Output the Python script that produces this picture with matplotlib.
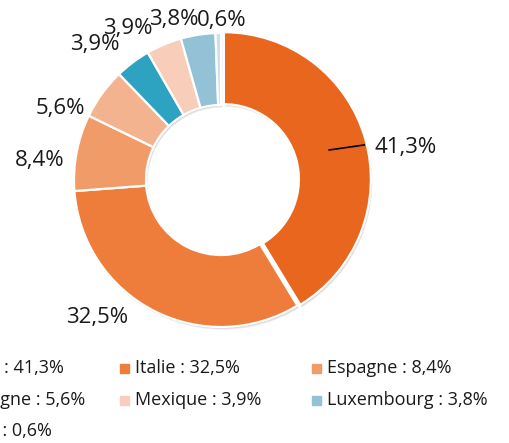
import matplotlib
matplotlib.use("Agg")
import matplotlib.pyplot as plt
import numpy as np
from matplotlib.patches import Rectangle

plt.rcParams['font.family'] = ['Open Sans', 'DejaVu Sans']

# ---- data ----
countries = ["France", "Italie", "Espagne", "Allemagne", "Suisse",
             "Mexique", "Luxembourg", "Autres"]
shares = [41.3, 32.5, 8.4, 5.6, 3.9, 3.9, 3.8, 0.6]
colors = ["#E9661F", "#EE7D3B", "#F19B68", "#F4B38F", "#2EA3C1",
          "#F8CDB9", "#93C2D6", "#C9DFEA"]
in_legend = [True, True, True, True, False, True, True, True]

def fmt(v):
    return f"{v:.1f}".replace(".", ",") + "%"

W, H = 510, 443
fig = plt.figure(figsize=(W / 100, H / 100), dpi=100)
ax = fig.add_axes([0, 0, 1, 1])
ax.set_xlim(0, W)
ax.set_ylim(0, H)
ax.axis("off")

cx, cy = 221, H - 180
R = 147
ring = 72
explode = [3, 0, 0, 0, 0, 0, 0, 0]

# soft shadow layers
for dx, dy, a in [(1.5, -2.5, 0.18), (1, -1.5, 0.22), (0.5, -0.8, 0.25)]:
    ax.pie(shares, radius=R, center=(cx + dx, cy + dy), startangle=90, counterclock=False,
           explode=explode, colors=["#808080"] * len(shares),
           wedgeprops=dict(width=ring, linewidth=0, alpha=a))

wedges, _ = ax.pie(shares, radius=R, center=(cx, cy), startangle=90, counterclock=False,
                   explode=explode, colors=colors,
                   wedgeprops=dict(width=ring, edgecolor="white", linewidth=1.6))
ax.set_xlim(0, W)
ax.set_ylim(0, H)
ax.set_aspect("equal")

# data labels (angle in degrees, distance from centre in px)
lab_ang = [10, -131.9, 173.7, 155.9, 133, 121.5, 106.4, 89.6]
lab_dist = [187, 185, 182, 176, 185, 178, 167, 160]
for v, a, d in zip(shares, lab_ang, lab_dist):
    t = np.deg2rad(a)
    ax.text(cx + d * np.cos(t), cy + d * np.sin(t), fmt(v), fontsize=16,
            ha="center", va="center", color="#1a1a1a")

# leader line for the first label
w0 = wedges[0]
th = np.deg2rad(15)
r_mid = R - ring / 2 - 2
x0 = w0.center[0] + r_mid * np.cos(th)
y0 = w0.center[1] + r_mid * np.sin(th)
ax.plot([x0, x0 + 35], [y0 + 1, y0 + 6], color="black", lw=1.2)

# legend (3 equal-width columns, first column partly outside the figure)
col_x = [-72, 120, 312]
row_y = [368, 400, 431]
items = [(c, v, col) for c, v, col, show in zip(countries, shares, colors, in_legend) if show]
for i, (c, v, col) in enumerate(items):
    r, k = divmod(i, 3)
    mx = col_x[k]
    my = H - row_y[r]
    ax.add_patch(Rectangle((mx, my - 4.5), 9, 9, color=col, clip_on=False))
    ax.text(mx + 15, my, f"{c} : {fmt(v)}", fontsize=13, ha="left", va="center",
            color="#1a1a1a")

fig.savefig("out.png", dpi=100)
